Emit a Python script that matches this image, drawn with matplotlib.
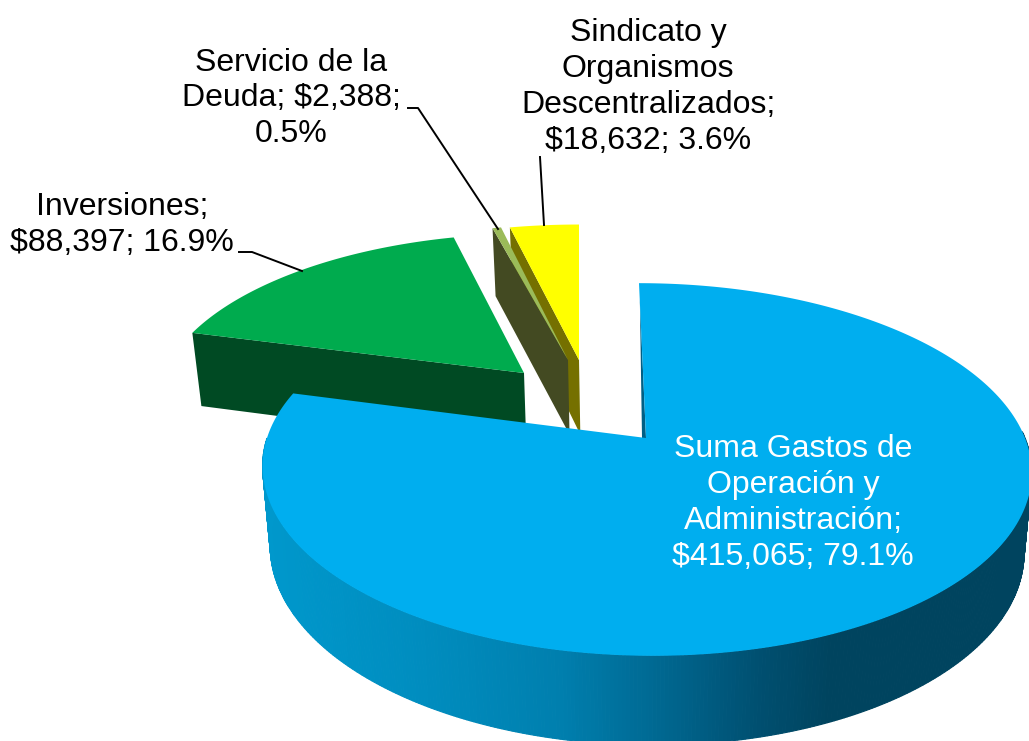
import numpy as np
import matplotlib
matplotlib.use('Agg')
import matplotlib.pyplot as plt
from matplotlib.colors import to_rgb

plt.rcParams['font.family'] = ['Liberation Sans', 'DejaVu Sans']

# data (clockwise from 12 o'clock)
categories = ["Suma Gastos de\nOperación y\nAdministración;",
              "Inversiones;",
              "Servicio de la\nDeuda;",
              "Sindicato y\nOrganismos\nDescentralizados;"]
values = [415065, 88397, 2388, 18632]
percents = [79.1, 16.9, 0.5, 3.6]

# slice look: apex pixel, scale x, scale y, skew
apex = [(646, 438), (524, 373), (568, 360), (579, 360)]
scale_x = [1.0, 0.95, 0.93, 0.96]
scale_y = [1.0, 0.90, 0.875, 0.875]
skew = [-7, 7, 0, 0]
top_colors = ['#00AEEF', '#00AB4E', '#9BBB59', '#FFFF00']
wall_colors = ['#005F85', '#004A23', '#434A22', '#757000']

# perspective of the pie plane
F = 379.0
G = 181.0
K = 0.169

# colour of the blue outer wall along x
shade_x = [262, 420, 560, 650, 760, 830, 1029]
shade_colors = ['#0098CC', '#008DBF', '#007FAE', '#006A94', '#004F70', '#00445F', '#00445F']
shade_rgb = np.array([to_rgb(c) for c in shade_colors])

total = sum(values)
edges = np.cumsum([0] + values) / total * 360.0


def project(theta, r, i):
    """Pie plane (angle in degrees clockwise from top, radius 0-1) to pixels."""
    t = np.radians(np.asarray(theta, dtype=float))
    X = r * np.sin(t)
    Y = r * np.cos(t)
    d = 1 + K * Y
    x = apex[i][0] + scale_x[i] * F * X / d + skew[i] * Y
    y = apex[i][1] - scale_y[i] * G * Y / d
    return x, y


def extrude(x, y):
    """Bottom of the pie below a point of the top face."""
    return 645 + (np.asarray(x) - 645) * 0.98, np.asarray(y) + 68 + 0.05 * (np.asarray(y) - 229)


def top_face(i):
    th = np.linspace(edges[i], edges[i + 1], 300)
    x, y = project(th, 1.0, i)
    return np.r_[apex[i][0], x], np.r_[apex[i][1], y]


def left_wall(i):
    x, y = project(edges[i], 1.0, i)
    px = np.array([x, apex[i][0]])
    py = np.array([y, apex[i][1]])
    bx, by = extrude(px, py)
    return np.r_[px, bx[::-1]], np.r_[py, by[::-1]]


fig = plt.figure(figsize=(10.29, 7.41), dpi=100)
ax = fig.add_axes([0, 0, 1, 1])
ax.set_xlim(0, 1029)
ax.set_ylim(741, 0)
ax.axis('off')

# green
ax.fill(*left_wall(1), color=wall_colors[1], lw=0)
ax.fill(*top_face(1), color=top_colors[1], lw=0)
# yellow wall goes behind the thin slice
ax.fill(*left_wall(3), color=wall_colors[3], lw=0)
ax.fill(*left_wall(2), color=wall_colors[2], lw=0)
ax.fill(*top_face(2), color=top_colors[2], lw=0)
ax.fill(*top_face(3), color=top_colors[3], lw=0)

# blue outer wall as narrow strips
th = np.linspace(88, 270, 365)
wx, wy = project(th, 1.0, 0)
bx, by = extrude(wx, wy)
for j in range(len(th) - 1):
    mid = (wx[j] + wx[j + 1]) / 2
    c = [np.interp(mid, shade_x, shade_rgb[:, n]) for n in range(3)]
    ax.fill([wx[j], wx[j + 1], bx[j + 1], bx[j]], [wy[j], wy[j + 1], by[j + 1], by[j]],
            color=c, lw=0.8)

# thin dark cut face next to the notch
ex, ey = project(0, 0.88, 0)
ax.fill([ex, apex[0][0], apex[0][0] - 4], [ey, apex[0][1], apex[0][1]], color=wall_colors[0], lw=0)
ax.fill(*top_face(0), color=top_colors[0], lw=0)

# leader lines
ax.plot([239, 252, 302], [252, 252, 271], color='black', lw=1.4)
ax.plot([408, 418, 498], [108, 108, 229], color='black', lw=1.4)
ax.plot([540, 544], [157, 225], color='black', lw=1.4)

# labels
labels = [f"{categories[0]}\n${values[0]:,}; {percents[0]}%",
          f"{categories[1]}\n${values[1]:,}; {percents[1]}%",
          f"{categories[2]} ${values[2]:,};\n{percents[2]}%",
          f"{categories[3]}\n${values[3]:,}; {percents[3]}%"]
label_xy = [(793, 503), (122, 225), (291, 98.5), (648, 87)]
label_colors = ['white', 'black', 'black', 'black']
for s, (lx, ly), c in zip(labels, label_xy, label_colors):
    ax.text(lx, ly, s, color=c, fontsize=23, ha='center', va='center',
            multialignment='center', linespacing=1.25)

fig.savefig('out.png', dpi=100)
